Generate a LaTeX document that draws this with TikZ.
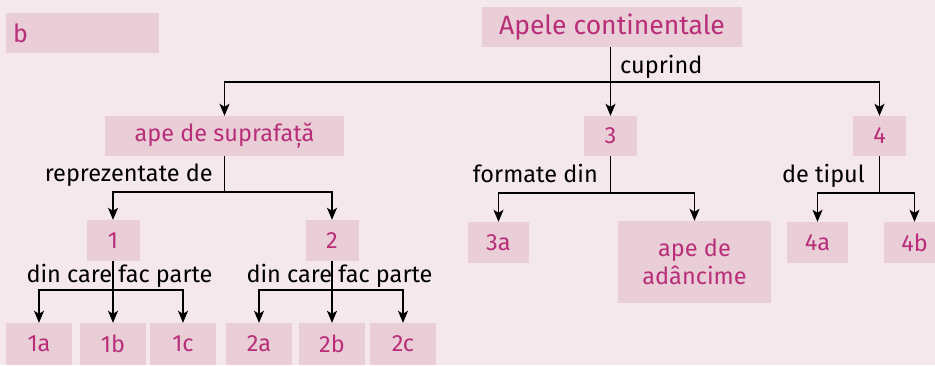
\documentclass[tikz,border=0pt]{standalone}
\usepackage{fontspec}
\setmainfont{Fira Sans}
\usetikzlibrary{arrows.meta}
\definecolor{bgpink}{RGB}{244,232,237}
\definecolor{boxpink}{RGB}{233,205,215}
\definecolor{textpink}{RGB}{184,46,120}

\begin{document}
\begin{tikzpicture}[
      x=1pt, y=-1pt,
      box/.style={fill=boxpink, text=textpink, inner sep=0pt, align=center, minimum width=#1, minimum height=40pt, font=\fontsize{23.5}{28}\selectfont},
      box/.default=53pt,
      lbl/.style={font=\fontsize{23.5}{28}\selectfont, text=black, inner sep=0pt},
      link/.style={line width=1.4pt, black},
      arr/.style={link, -{Stealth[length=12pt,width=10pt,inset=3pt]}}
    ]
      \fill[bgpink] (0,0) rectangle (935,365);
      \useasboundingbox (0,0) rectangle (935,365);

      \node[box=153pt, anchor=north west, text width=139pt, align=left, inner xsep=7pt, font=\fontsize{25}{28}\selectfont] (tag) at (6,13) {b};

      \node[box=260pt, font=\fontsize{26.5}{30}\selectfont] (top) at (612,27) {Apele continentale};
      \node[box=239pt] (sup) at (224.5,136) {ape de suprafață};
      \node[box] (n3) at (610.5,136) {3};
      \node[box] (n4) at (879.5,136) {4};

      \node[box, minimum height=41pt] (n1) at (113,240.5) {1};
      \node[box, minimum height=41pt] (n2) at (332,240.5) {2};
      \node[box=61pt, minimum height=41pt] (n3a) at (498.5,242.5) {3a};
      \node[box=153pt, minimum height=82pt] (deep) at (694.5,262) {ape de\\adâncime};
      \node[box=61pt, minimum height=41pt] (n4a) at (817.5,242.5) {4a};
      \node[box=61pt, minimum height=41pt] (n4b) at (914.5,242.5) {4b};

      \node[box=66pt, minimum height=42pt] (n1a) at (39,344) {1a};
      \node[box=66pt, minimum height=42pt] (n1b) at (113,344) {1b};
      \node[box=66pt, minimum height=42pt] (n1c) at (183,344) {1c};
      \node[box=66pt, minimum height=42pt] (n2a) at (259,344) {2a};
      \node[box=66pt, minimum height=42pt] (n2b) at (332,344) {2b};
      \node[box=66pt, minimum height=42pt] (n2c) at (403,344) {2c};

      % junctions
      \coordinate (j0) at (610.5,82);
      \coordinate (jsup) at (224.5,192);
      \coordinate (j1) at (113,290);
      \coordinate (j2) at (332,290);
      \coordinate (j3) at (610.5,193);
      \coordinate (j4) at (879.5,193);

      \draw[link] (top.south -| j0) -- (j0);
      \draw[arr] (j0) -| (sup.north);
      \draw[arr] (j0) -- (n3.north);
      \draw[arr] (j0) -| (n4.north);
      \node[lbl, anchor=base west] (cup) at (620,73) {cuprind};

      \draw[link] (sup.south) -- (jsup);
      \draw[arr] (jsup) -| (n1.north);
      \draw[arr] (jsup) -| (n2.north);
      \node[lbl, anchor=base east] (rep) at (213,181) {reprezentate de};

      \draw[link] (n3.south) -- (j3);
      \draw[arr] (j3) -| (n3a.north);
      \draw[arr] (j3) -| (deep.north);
      \node[lbl, anchor=base east] (form) at (598,182) {formate din};

      \draw[link] (n4.south) -- (j4);
      \draw[arr] (j4) -| (n4a.north);
      \draw[arr] (j4) -| (n4b.north);
      \node[lbl, anchor=base east] (tip) at (865,182) {de tipul};

      \draw[link] (n1.south) -- (j1);
      \draw[arr] (j1) -| (n1a.north);
      \draw[arr] (j1) -- (n1b.north);
      \draw[arr] (j1) -| (n1c.north);
      \node[lbl, anchor=base] (fac1) at (119.5,282) {din care fac parte};

      \draw[link] (n2.south) -- (j2);
      \draw[arr] (j2) -| (n2a.north);
      \draw[arr] (j2) -- (n2b.north);
      \draw[arr] (j2) -| (n2c.north);
      \node[lbl, anchor=base] (fac2) at (339.5,282) {din care fac parte};
    \end{tikzpicture}
\end{document}
